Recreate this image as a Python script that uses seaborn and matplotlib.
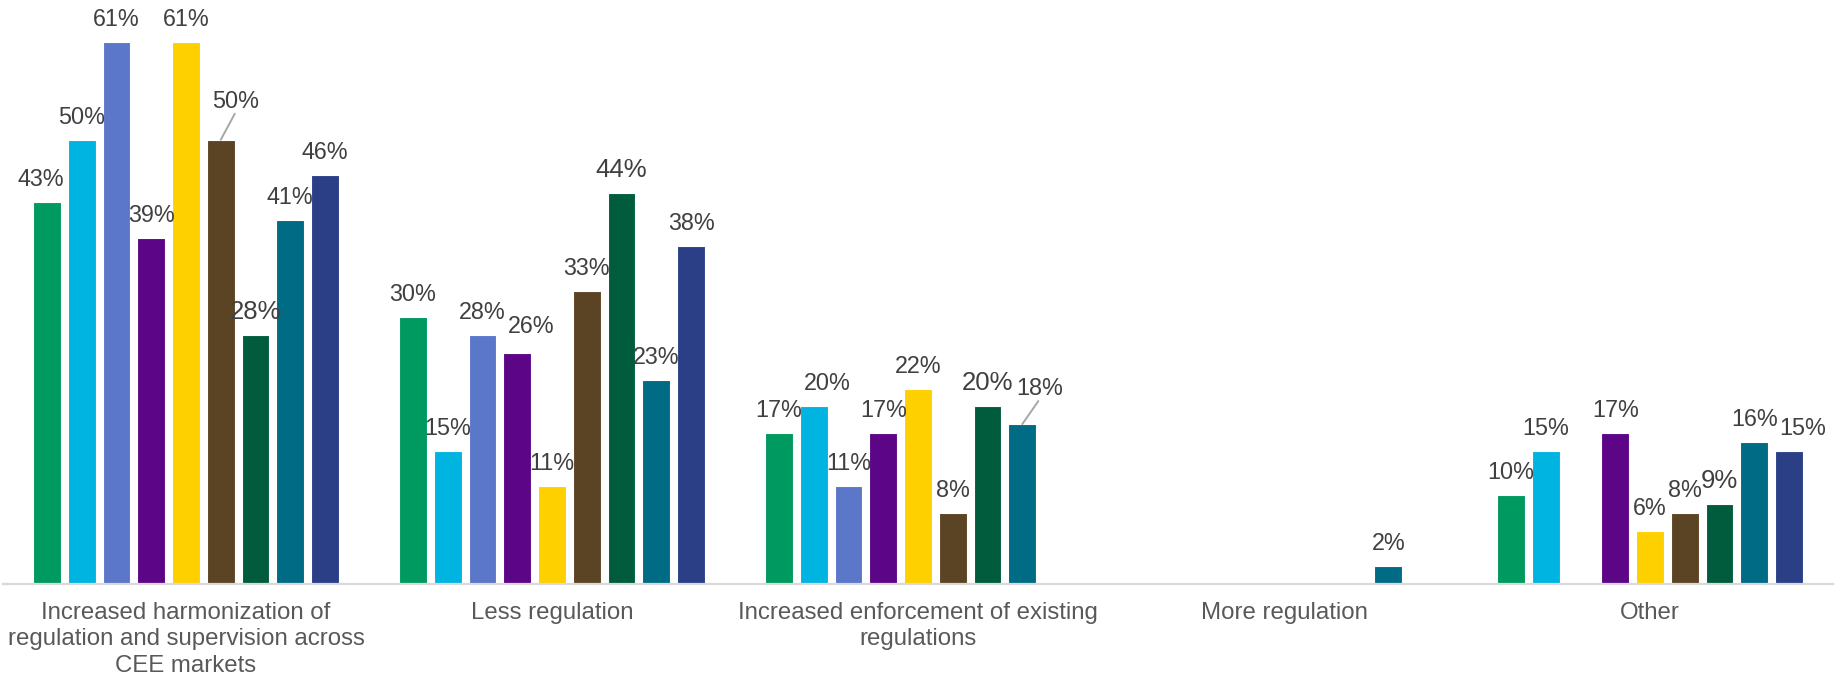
import numpy as np
import pandas as pd
import seaborn as sns
import matplotlib.pyplot as plt

categories = [
    "Increased harmonization of\nregulation and supervision across\nCEE markets",
    "Less regulation",
    "Increased enforcement of existing\nregulations",
    "More regulation",
    "Other",
]
series = ["S1", "S2", "S3", "S4", "S5", "S6", "S7", "S8", "S9"]
colors = ["#00995F", "#00B4E1", "#5B77CA", "#5C0687", "#FFD000",
          "#5B4423", "#005C3D", "#006B84", "#2B3F86"]

s1 = [43, 30, 17, None, 10]
s2 = [50, 15, 20, None, 15]
s3 = [61, 28, 11, None, None]
s4 = [39, 26, 17, None, 17]
s5 = [61, 11, 22, None, 6]
s6 = [50, 33, 8, None, 8]
s7 = [28, 44, 20, None, 9]
s8 = [41, 23, 18, 2, 16]
s9 = [46, 38, None, None, 15]
all_series = [s1, s2, s3, s4, s5, s6, s7, s8, s9]

rows = []
for name, vals in zip(series, all_series):
    for cat, v in zip(categories, vals):
        if v is not None:
            rows.append({"category": cat, "series": name, "value": v})
df = pd.DataFrame(rows)

sns.set_style("white")
plt.rcParams["font.family"] = ["Liberation Sans", "DejaVu Sans"]

fig = plt.figure(figsize=(18.37, 6.81), dpi=100)
ax = fig.add_axes([3 / 1837, 97 / 681, 1830 / 1837, 577.5 / 681])

sns.barplot(data=df, x="category", y="value", hue="series", order=categories,
            hue_order=series, palette=colors, saturation=1, width=0.855, gap=0.2,
            dodge=True, errorbar=None, legend=False, edgecolor="white",
            linewidth=0.8, ax=ax)

ax.set_ylim(0, 65)
ax.set_xlim(-0.5, 4.5)
ax.set_xlabel("")
ax.set_ylabel("")
ax.set_yticks([])
for s in ["left", "top", "right"]:
    ax.spines[s].set_visible(False)
ax.spines["bottom"].set_color("#D9D9D9")
ax.spines["bottom"].set_linewidth(1.6)
ax.tick_params(axis="x", length=0, pad=13, labelsize=17.3, labelcolor="#595959")
for t in ax.get_xticklabels():
    t.set_linespacing(1.25)

px = 72 / 100
# label adjustments: (series idx, category idx) -> (dx px, extra dy px, leader)
adjust = {
    (0, 0): (-6, 0, False),
    (8, 4): (14, 0, False),
    (1, 2): (14, 0, False),
    (3, 1): (14, 4, False),
    (5, 0): (15, 16, True),
    (7, 2): (17, 13, True),
}

for si, cont in enumerate(ax.containers):
    vals = all_series[si]
    cat_idx = [ci for ci, v in enumerate(vals) if v is not None]
    for ci, bar in zip(cat_idx, cont.patches):
        h = bar.get_height()
        xc = bar.get_x() + bar.get_width() / 2
        dx, dy, leader = adjust.get((si, ci), (0, 0, False))
        fs = 18.5 if si == 6 else 16.8
        ax.annotate(f"{h:.0f}%", xy=(xc, h), xytext=(dx * px, (16 + dy) * px),
                    textcoords="offset points", ha="center", va="baseline",
                    fontsize=fs, color="#404040", annotation_clip=False)
        if leader:
            ax.annotate("", xy=(xc, h), xytext=((dx - 1) * px, (dy + 10) * px),
                        textcoords="offset points",
                        arrowprops=dict(arrowstyle="-", color="#A6A6A6", lw=1.4,
                                        shrinkA=0, shrinkB=0),
                        annotation_clip=False)

fig.savefig("out.png", dpi=100)
